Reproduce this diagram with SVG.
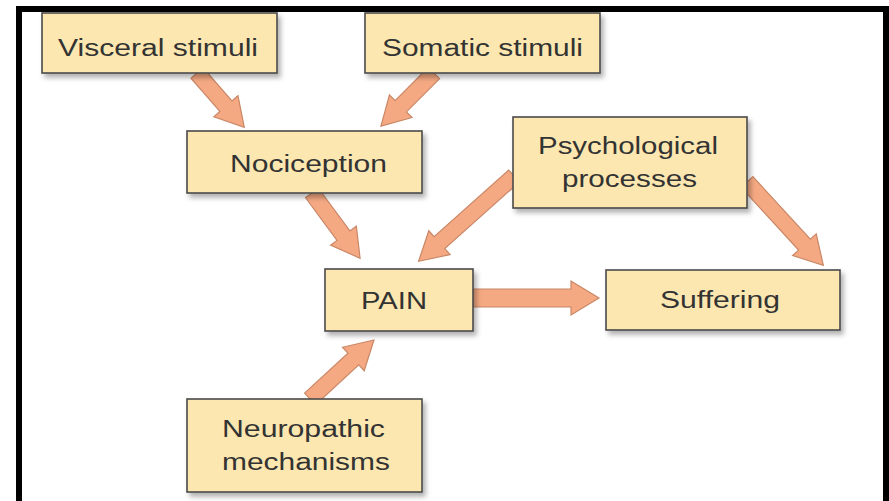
<svg xmlns="http://www.w3.org/2000/svg" width="889" height="501" viewBox="0 0 889 501">
<defs>
<filter id="sh" x="-10%" y="-10%" width="130%" height="140%">
<feDropShadow dx="3" dy="4" stdDeviation="2.5" flood-color="#000" flood-opacity="0.3"/>
</filter>
<style>
.box{fill:#fce7b0;stroke:#4a4a4a;stroke-width:1.6;filter:url(#sh)}
.t{font-family:"Liberation Sans",Arial,sans-serif;font-size:23px;fill:#333}
.arr{fill:#f5a983;stroke:#c98766;stroke-width:1.2;stroke-linejoin:miter}
</style>
</defs>
<rect x="0" y="0" width="889" height="501" fill="#fff"/>
<path d="M19,501 V9 H886 V501" fill="none" stroke="#000" stroke-width="6"/>
<g id="connectors">
<path class="arr" transform="translate(197,73) rotate(48.96)" d="M0,-8 L44,-8 L44,-16 L72,0 L44,16 L44,8 L0,8 Z"/>
<path class="arr" transform="translate(434,73) rotate(135)" d="M0,-8 L47,-8 L47,-16 L75,0 L47,16 L47,8 L0,8 Z"/>
<path class="arr" transform="translate(312,193) rotate(53.6)" d="M0,-8 L53,-8 L53,-16 L81,0 L53,16 L53,8 L0,8 Z"/>
<path class="arr" transform="translate(514,176) rotate(138.2)" d="M0,-8 L100,-8 L100,-16 L128,0 L100,16 L100,8 L0,8 Z"/>
<path class="arr" transform="translate(747,182) rotate(47.5)" d="M0,-8 L85,-8 L85,-16 L113,0 L85,16 L85,8 L0,8 Z"/>
<path class="arr" transform="translate(473,298) rotate(0)" d="M0,-9 L98,-9 L98,-17 L126,0 L98,17 L98,9 L0,9 Z"/>
<path class="arr" transform="translate(310,399) rotate(-42.7)" d="M0,-8 L59,-8 L59,-16 L87,0 L59,16 L59,8 L0,8 Z"/>
</g>
<g id="visceral">
<rect class="box" x="42" y="13" width="235" height="60"/>
<text class="t" x="58" y="56" textLength="200" lengthAdjust="spacingAndGlyphs">Visceral stimuli</text>
</g>
<g id="somatic">
<rect class="box" x="365" y="13" width="235" height="60"/>
<text class="t" x="382" y="56" textLength="201" lengthAdjust="spacingAndGlyphs">Somatic stimuli</text>
</g>
<g id="nociception">
<rect class="box" x="187" y="131" width="235" height="62"/>
<text class="t" x="230" y="172" textLength="157" lengthAdjust="spacingAndGlyphs">Nociception</text>
</g>
<g id="psychological">
<rect class="box" x="513" y="117" width="234" height="91"/>
<text class="t" x="538" y="154" textLength="180" lengthAdjust="spacingAndGlyphs">Psychological</text>
<text class="t" x="562" y="187" textLength="135" lengthAdjust="spacingAndGlyphs">processes</text>
</g>
<g id="pain">
<rect class="box" x="325" y="269" width="148" height="62"/>
<text class="t" x="361" y="309" textLength="66" lengthAdjust="spacingAndGlyphs">PAIN</text>
</g>
<g id="suffering">
<rect class="box" x="606" y="270" width="234" height="60"/>
<text class="t" x="660" y="308" textLength="120" lengthAdjust="spacingAndGlyphs">Suffering</text>
</g>
<g id="neuropathic">
<rect class="box" x="187" y="399" width="235" height="93"/>
<text class="t" x="222" y="437" textLength="163" lengthAdjust="spacingAndGlyphs">Neuropathic</text>
<text class="t" x="222" y="470" textLength="168" lengthAdjust="spacingAndGlyphs">mechanisms</text>
</g>
</svg>
